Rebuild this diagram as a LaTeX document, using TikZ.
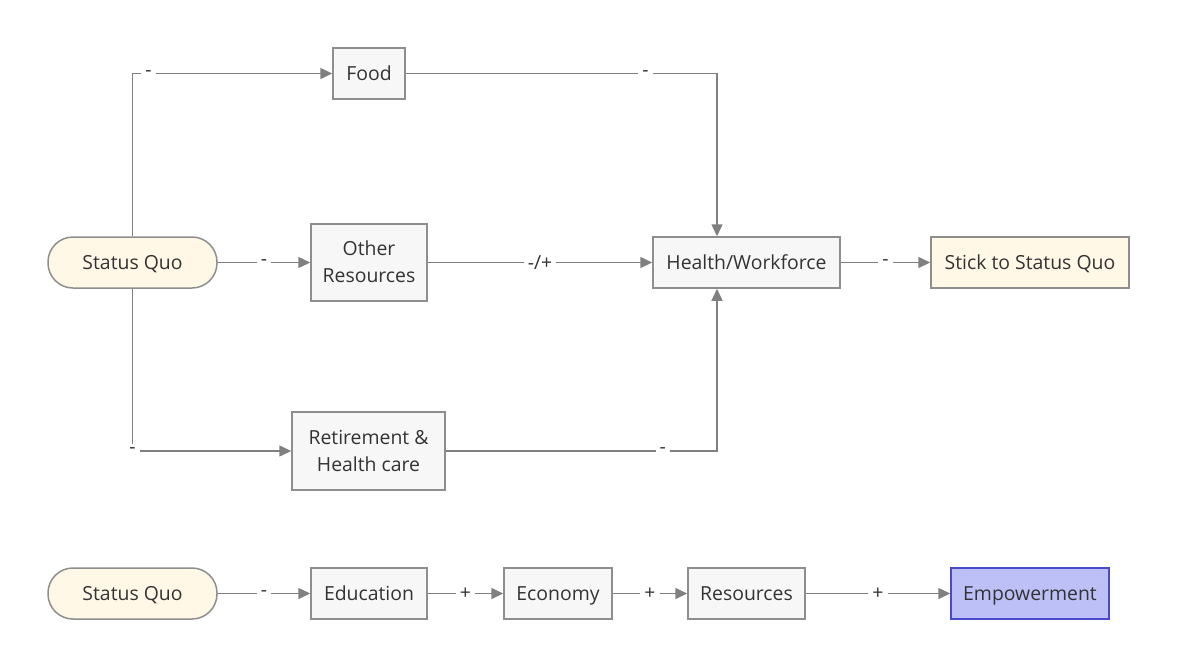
\documentclass[tikz,border=0pt]{standalone}
\usepackage{fontspec}
\setmainfont{Open Sans}
\usetikzlibrary{arrows.meta}

\definecolor{linegray}{HTML}{808080}
\definecolor{boxline}{HTML}{8E8E8E}
\definecolor{boxfill}{HTML}{F7F7F7}
\definecolor{quofill}{HTML}{FFF8E7}
\definecolor{goalfill}{HTML}{BDBFF7}
\definecolor{goalline}{HTML}{4A4ACF}
\definecolor{textgray}{HTML}{333333}

\begin{document}
\begin{tikzpicture}[x=1pt, y=-1pt, font=\fontsize{19.4}{27}\selectfont, text=textgray,
    box/.style={draw=boxline, fill=boxfill, line width=1.5pt, inner sep=0pt, align=center,
      text height=13.5pt, text depth=0pt, minimum height=51pt},
    twoline/.style={text height=40.5pt},
    quo/.style={box, fill=quofill, rounded corners=25pt},
    goal/.style={box, fill=goalfill, draw=goalline},
    link/.style={draw=linegray, line width=1.5pt, -{Triangle[length=12pt,width=11pt]}},
    lbl/.style={fill=white, inner sep=4pt, text=textgray}]

        % page frame, in pixels of the reference
        \useasboundingbox (0,0) rectangle (1178,667);

        % first chain
        \node[quo, minimum width=169pt] (quo) at (132.5,262.5) {Status Quo};
        \node[box, minimum width=72pt] (food) at (369,73.5) {Food};
        \node[box, twoline, minimum width=116pt, minimum height=77pt] (other) at (369,262.5) {Other\\Resources};
        \node[box, twoline, minimum width=153pt, minimum height=78pt] (retire) at (368.5,451) {Retirement \&\\Health care};
        \node[box, minimum width=187pt] (health) at (746.5,262.5) {Health/Workforce};
        \node[box, fill=quofill, minimum width=198pt] (stick) at (1030,262.5) {Stick to Status Quo};

	\draw[link] (quo.north) |- node[lbl, pos=0.54] {-} (food.west);
	\draw[link] (quo) -- node[lbl] {-} (other);
	\draw[link] (quo.south) |- node[lbl, pos=0.5] {-} (retire.west);
	\draw[link] (food) -| node[lbl, pos=0.385] {-} ([xshift=-29.5pt]health.north);
	\draw[link] (other) -- node[lbl] {-/+} (health);
	\draw[link] (retire) -| node[lbl, pos=0.4] {-} ([xshift=-29.5pt]health.south);
	\draw[link] (health) -- node[lbl] {-} (stick);

        % second chain
        \node[quo, minimum width=169pt] (quo2) at (132.5,593.5) {Status Quo};
        \node[box, minimum width=116pt] (edu) at (369,593.5) {Education};
        \node[box, minimum width=108pt] (econ) at (558,593.5) {Economy};
        \node[box, minimum width=117pt] (res) at (746.5,593.5) {Resources};
        \node[goal, minimum width=158pt] (emp) at (1030,593.5) {Empowerment};

	\draw[link] (quo2) -- node[lbl] {-} (edu);
	\draw[link] (edu) -- node[lbl] {+} (econ);
	\draw[link] (econ) -- node[lbl] {+} (res);
	\draw[link] (res) -- node[lbl] {+} (emp);

\end{tikzpicture}
\end{document}
